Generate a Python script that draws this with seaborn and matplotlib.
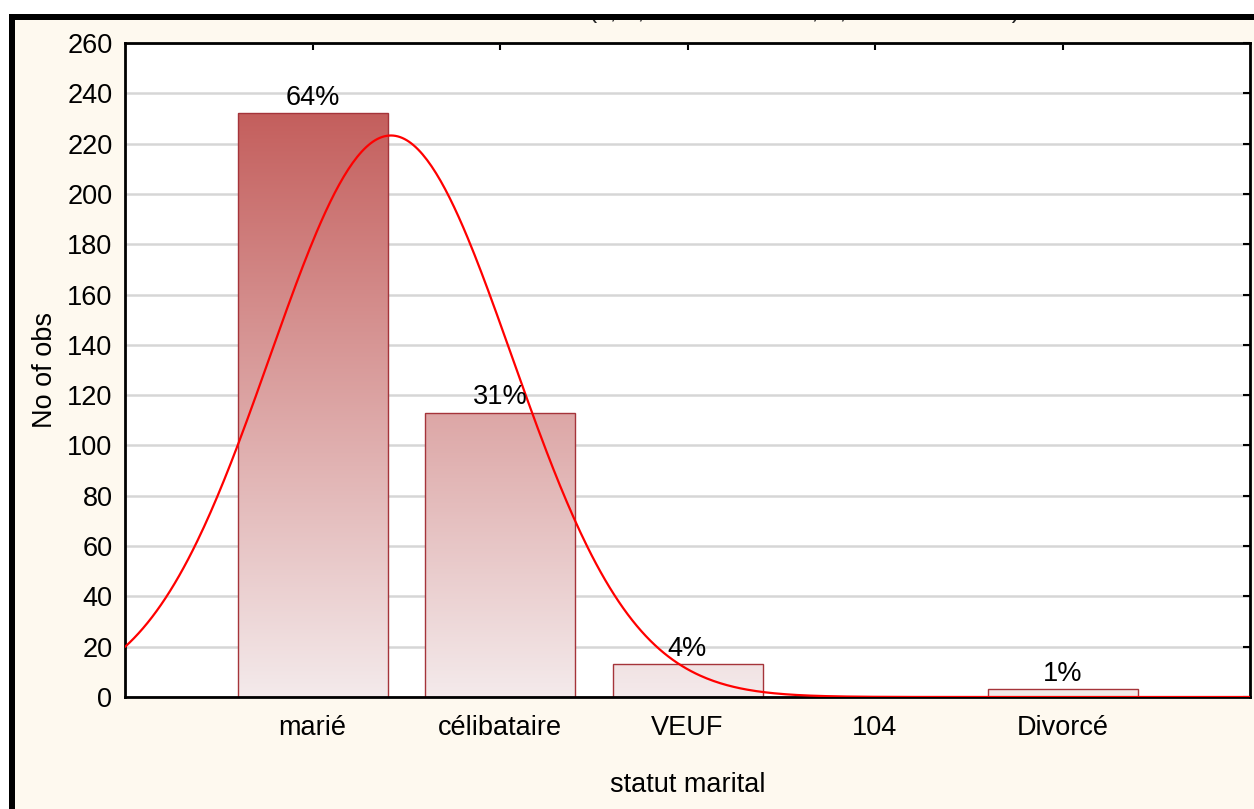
import numpy as np
import pandas as pd
import matplotlib
matplotlib.use("Agg")
import matplotlib.pyplot as plt
import seaborn as sns
from matplotlib.colors import LinearSegmentedColormap, Normalize
from matplotlib.patches import Rectangle

# Data: marital status frequencies
categories = ["marié", "célibataire", "VEUF", "104", "Divorcé"]
counts = [232, 113, 13, 0, 3]
y_ticks = list(range(0, 261, 20))
fit_title = "statut marital = 361*1*normal(x; 1,418282548476; 0,644356113469)"

sns.set_theme(style="white")
plt.rcParams["font.family"] = ["Liberation Sans", "DejaVu Sans"]

W, H = 1254, 809
FS = 19.5
fig = plt.figure(figsize=(W / 100, H / 100), dpi=100, facecolor="white")

# Cream page, black frame on top/left, white margin above
fig.patches.append(Rectangle((15 / W, 0), 1 - 15 / W, 1 - 20 / H, transform=fig.transFigure,
                             facecolor="#FEF9EF", edgecolor="none", zorder=-1))
fig.patches.append(Rectangle((0, 1 - 14 / H), 1, 14 / H, transform=fig.transFigure,
                             facecolor="white", edgecolor="none", zorder=4))
fig.patches.append(Rectangle((9 / W, 1 - 20 / H), 1 - 9 / W, 6 / H, transform=fig.transFigure,
                             facecolor="black", edgecolor="none", zorder=5))
fig.patches.append(Rectangle((9 / W, 0), 6 / W, 1 - 14 / H, transform=fig.transFigure,
                             facecolor="black", edgecolor="none", zorder=5))
fig.text(1020 / W, 1 - 18 / H, fit_title, ha="right", va="baseline", fontsize=18, zorder=2)

ax = fig.add_axes([125 / W, 1 - 697 / H, (1250 - 125) / W, (697 - 43) / H])
ax.set_facecolor("white")

df = pd.DataFrame({"statut": categories, "n": counts})
sns.barplot(data=df, x="statut", y="n", order=categories, width=0.8, color="white",
            edgecolor="#A5343A", linewidth=1.0, ax=ax, zorder=2)

# Vertical red gradient inside each bar, shared across the value scale
cmap = LinearSegmentedColormap.from_list("bar_grad", ["#F4EAEB", "#C45F5D"])
norm = Normalize(0, max(counts))
for bar in ax.patches:
    x0, w, h = bar.get_x(), bar.get_width(), bar.get_height()
    bar.set_facecolor("none")
    if h <= 0:
        continue
    grad = np.linspace(0, h, 256).reshape(-1, 1)
    im = ax.imshow(grad, cmap=cmap, norm=norm, extent=(x0, x0 + w, 0, h), origin="lower",
                   aspect="auto", zorder=1.5, interpolation="bilinear")
    im.set_clip_path(bar)

# Expected normal curve fitted to the coded categories (1..5)
codes = np.arange(1, len(categories) + 1)
n_tot = sum(counts)
mean = np.dot(codes, counts) / n_tot
sd = np.sqrt(np.dot((codes - mean) ** 2, counts) / (n_tot - 1))
xs = np.linspace(0, len(categories) + 1, 500)
ys = n_tot * 1 * np.exp(-0.5 * ((xs - mean) / sd) ** 2) / (sd * np.sqrt(2 * np.pi))
sns.lineplot(x=xs - 1, y=ys, color="#FF0000", linewidth=1.6, ax=ax, zorder=4)

# Percentage labels
for i, c in enumerate(counts):
    if c > 0:
        ax.annotate(f"{round(100 * c / n_tot)}%", (i, c), xytext=(0, 2), textcoords="offset points",
                    ha="center", va="bottom", fontsize=FS, color="black", zorder=6)

ax.set_xlim(-1, len(categories))
ax.set_ylim(0, 260)
ax.set_yticks(y_ticks)
ax.set_yticklabels([str(t) for t in y_ticks])
ax.yaxis.grid(True, color="#D6D6D6", linewidth=1.8)
ax.xaxis.grid(False)
ax.set_axisbelow(True)

for s in ax.spines.values():
    s.set_color("black")
    s.set_linewidth(2)
ax.tick_params(axis="both", direction="in", top=True, right=True, length=5, width=1.5,
               color="black", labelsize=FS, labelcolor="black")
ax.tick_params(axis="y", pad=9)
ax.tick_params(axis="x", pad=13)

ax.set_xlabel("statut marital", fontsize=FS, color="black")
ax.set_ylabel("No of obs", fontsize=FS, color="black")
ax.xaxis.set_label_coords(0.5, -0.114)
ax.yaxis.set_label_coords(-0.060, 0.5)

fig.savefig("out.png", dpi=100, facecolor=fig.get_facecolor())
